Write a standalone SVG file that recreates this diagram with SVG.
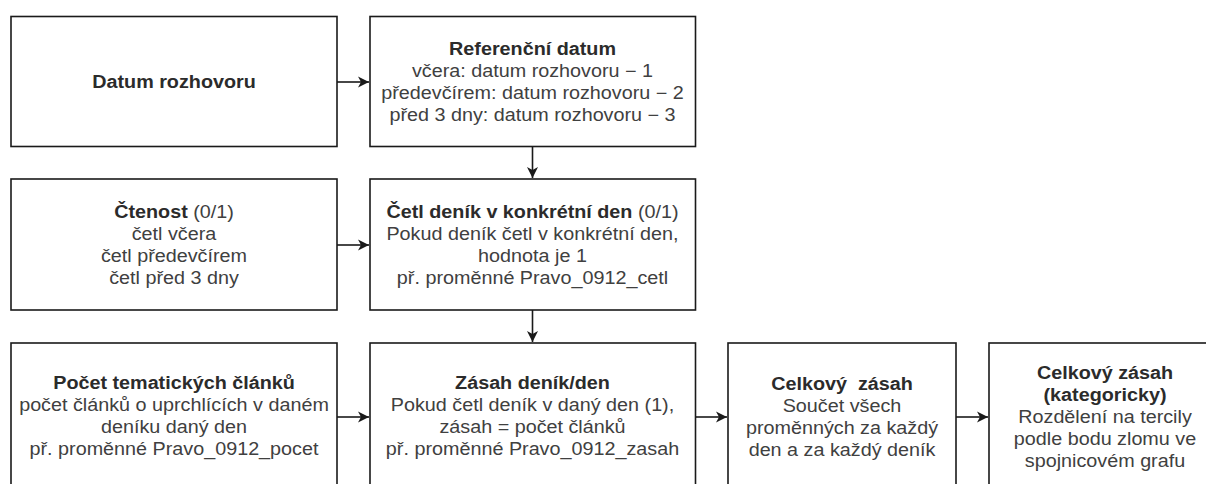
<svg xmlns="http://www.w3.org/2000/svg" width="1206" height="484" viewBox="0 0 1206 484">
<style>
.box{fill:#fff;stroke:#1a1a1a;stroke-width:1.6}
.t{font-family:"Liberation Sans",Arial,sans-serif;font-size:17.5px;fill:#333;text-anchor:middle}
.b{font-weight:bold;fill:#2b2b2b}
.n{font-weight:normal;fill:#404040}
.edge{fill:none;stroke:#1a1a1a;stroke-width:1.6}
</style>
<defs>
<marker id="arr" markerUnits="userSpaceOnUse" markerWidth="14" markerHeight="14" viewBox="-12 -7 14 14" refX="0" refY="0" orient="auto">
<path d="M0,0 L-11,-5.5 L-8,0 L-11,5.5 Z" fill="#1a1a1a"/>
</marker>
</defs>
<rect width="1206" height="484" fill="#fff"/>

<g id="connectors">
<path class="edge" d="M337,82 L369,82" marker-end="url(#arr)"/>
<path class="edge" d="M532.5,146.5 L532.5,178" marker-end="url(#arr)"/>
<path class="edge" d="M337,245 L369,245" marker-end="url(#arr)"/>
<path class="edge" d="M532.5,310 L532.5,342" marker-end="url(#arr)"/>
<path class="edge" d="M337,417 L369,417" marker-end="url(#arr)"/>
<path class="edge" d="M695.5,417 L727,417" marker-end="url(#arr)"/>
<path class="edge" d="M956,417 L988,417" marker-end="url(#arr)"/>
</g>

<g id="datum-rozhovoru">
<rect class="box" x="11" y="16.5" width="326" height="130"/>
<g transform="translate(174 0) scale(1.13 1)">
<text class="t b" x="0" y="88">Datum rozhovoru</text>
</g>
</g>

<g id="referencni-datum">
<rect class="box" x="370" y="16.5" width="325.5" height="130"/>
<g transform="translate(532.5 0) scale(1.13 1)">
<text class="t b" x="0" y="55">Referenční datum</text>
<text class="t n" x="0" y="77">včera: datum rozhovoru − 1</text>
<text class="t n" x="0" y="99">předevčírem: datum rozhovoru − 2</text>
<text class="t n" x="0" y="121">před 3 dny: datum rozhovoru − 3</text>
</g>
</g>

<g id="ctenost">
<rect class="box" x="11" y="179" width="326" height="131"/>
<g transform="translate(174 0) scale(1.13 1)">
<text class="t b" x="0" y="218">Čtenost<tspan class="n"> (0/1)</tspan></text>
<text class="t n" x="0" y="240">četl včera</text>
<text class="t n" x="0" y="262">četl předevčírem</text>
<text class="t n" x="0" y="284">četl před 3 dny</text>
</g>
</g>

<g id="cetl-denik">
<rect class="box" x="370" y="179" width="325.5" height="131"/>
<g transform="translate(532.5 0) scale(1.13 1)">
<text class="t b" x="0" y="218">Četl deník v konkrétní den<tspan class="n"> (0/1)</tspan></text>
<text class="t n" x="0" y="240">Pokud deník četl v konkrétní den,</text>
<text class="t n" x="0" y="262">hodnota je 1</text>
<text class="t n" x="0" y="284">př. proměnné Pravo_0912_cetl</text>
</g>
</g>

<g id="pocet-clanku">
<rect class="box" x="11" y="343" width="326" height="150"/>
<g transform="translate(174 0) scale(1.13 1)">
<text class="t b" x="0" y="389">Počet tematických článků</text>
<text class="t n" x="0" y="411">počet článků o uprchlících v daném</text>
<text class="t n" x="0" y="433">deníku daný den</text>
<text class="t n" x="0" y="455">př. proměnné Pravo_0912_pocet</text>
</g>
</g>

<g id="zasah-denik-den">
<rect class="box" x="370" y="343" width="325.5" height="150"/>
<g transform="translate(532.5 0) scale(1.13 1)">
<text class="t b" x="0" y="389">Zásah deník/den</text>
<text class="t n" x="0" y="411">Pokud četl deník v daný den (1),</text>
<text class="t n" x="0" y="433">zásah = počet článků</text>
<text class="t n" x="0" y="455">př. proměnné Pravo_0912_zasah</text>
</g>
</g>

<g id="celkovy-zasah">
<rect class="box" x="728" y="343" width="228" height="150"/>
<g transform="translate(842 0) scale(1.13 1)">
<text class="t b" x="0" y="390" xml:space="preserve">Celkový  zásah</text>
<text class="t n" x="0" y="412">Součet všech</text>
<text class="t n" x="0" y="434">proměnných za každý</text>
<text class="t n" x="0" y="456">den a za každý deník</text>
</g>
</g>

<g id="celkovy-zasah-kategoricky">
<rect class="box" x="989" y="343" width="232" height="150"/>
<g transform="translate(1105 0) scale(1.13 1)">
<text class="t b" x="0" y="379">Celkový zásah</text>
<text class="t b" x="0" y="401">(kategoricky)</text>
<text class="t n" x="0" y="423">Rozdělení na tercily</text>
<text class="t n" x="0" y="445">podle bodu zlomu ve</text>
<text class="t n" x="0" y="467">spojnicovém grafu</text>
</g>
</g>
</svg>
